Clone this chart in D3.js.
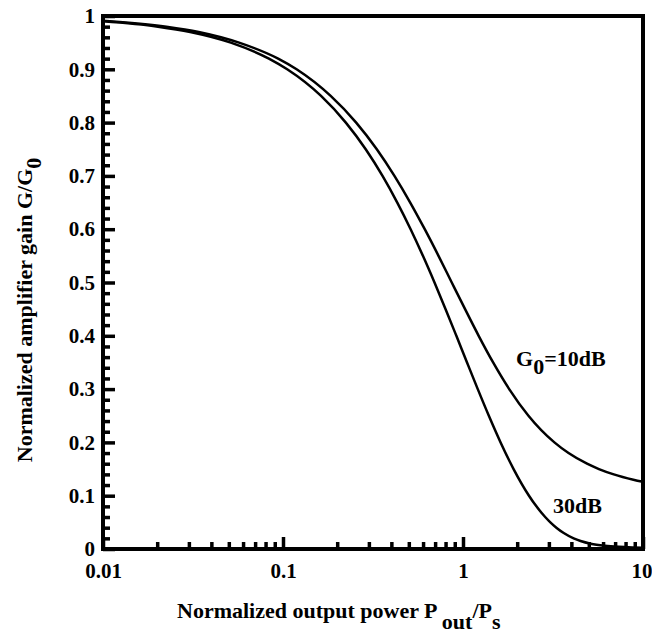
<!DOCTYPE html>
<html>
<head>
<meta charset="utf-8">
<script src="https://cdn.jsdelivr.net/npm/d3@7"></script>
<style>
  body { margin: 0; background: #fff; }
  text { font-family: "Liberation Serif", "Times New Roman", serif; font-weight: bold; fill: #000; }
</style>
</head>
<body>
<script>
const width = 652, height = 637;
const margin = { top: 16, right: 9, bottom: 88, left: 103 };

// G0 = 10 dB curve (Pout/Ps, G/G0)
const power10 = [0.01, 0.0225, 0.034, 0.057, 0.094, 0.119, 0.184, 0.255, 0.332, 0.416, 0.509, 0.613, 0.731, 0.866, 1.027, 1.222, 1.47, 1.806, 2.31, 3.219, 3.858, 4.887, 5.691, 6.881, 8.841, 10];
const gain10  = [0.991, 0.98, 0.97, 0.95, 0.92, 0.90, 0.85, 0.80, 0.75, 0.70, 0.65, 0.60, 0.55, 0.50, 0.45, 0.40, 0.35, 0.30, 0.25, 0.20, 0.18, 0.16, 0.15, 0.14, 0.13, 0.126];

// G0 = 30 dB curve
const power30 = [0.01, 0.0202, 0.0305, 0.0513, 0.0835, 0.1055, 0.1627, 0.2234, 0.2881, 0.3572, 0.4314, 0.5117, 0.5989, 0.6945, 0.8003, 0.9186, 1.0528, 1.208, 1.3918, 1.6175, 1.9099, 2.3259, 2.5577, 2.8611, 3.0569, 3.3014, 3.6275, 4.1179, 4.4997, 5.1169, 5.5181, 6.1392, 6.6229, 7.3619, 8.7137, 10];
const gain30  = [0.99, 0.98, 0.97, 0.95, 0.92, 0.90, 0.85, 0.80, 0.75, 0.70, 0.65, 0.60, 0.55, 0.50, 0.45, 0.40, 0.35, 0.30, 0.25, 0.20, 0.15, 0.10, 0.08, 0.06, 0.05, 0.04, 0.03, 0.02, 0.015, 0.01, 0.008, 0.006, 0.005, 0.004, 0.003, 0.0025];

// tick labels
const xMajor = [0.01, 0.1, 1, 10];
const xMinor = [0.02, 0.03, 0.04, 0.05, 0.06, 0.07, 0.08, 0.09,
                0.2, 0.3, 0.4, 0.5, 0.6, 0.7, 0.8, 0.9,
                2, 3, 4, 5, 6, 7, 8, 9];
const yMajor = [0, 0.1, 0.2, 0.3, 0.4, 0.5, 0.6, 0.7, 0.8, 0.9, 1];
const yMinor = d3.range(0.02, 1, 0.02).filter(v => Math.abs(v * 10 - Math.round(v * 10)) > 1e-6);

const svg = d3.select("body")
    .append("svg")
    .attr("width", width)
    .attr("height", height);

const x = d3.scaleLog()
    .domain([0.01, 10])
    .range([margin.left, width - margin.right]);

const y = d3.scaleLinear()
    .domain([0, 1])
    .range([height - margin.bottom, margin.top]);

// curves
const line = d3.line()
    .x(d => x(d[0]))
    .y(d => y(d[1]))
    .curve(d3.curveMonotoneX);

const series = [
    d3.zip(power10, gain10),
    d3.zip(power30, gain30)
];

svg.selectAll(".curve")
    .data(series)
    .enter()
    .append("path")
    .attr("class", "curve")
    .attr("d", line)
    .attr("fill", "none")
    .attr("stroke", "#000")
    .attr("stroke-width", 2.5);

// bottom axis, ticks point inward
const xAxis = svg.append("g")
    .attr("transform", `translate(0,${y(0)})`)
    .call(d3.axisBottom(x).tickValues(xMajor).tickSize(-12).tickPadding(14).tickFormat(d3.format("")));
svg.append("g")
    .attr("transform", `translate(0,${y(0)})`)
    .call(d3.axisBottom(x).tickValues(xMinor).tickSize(-7).tickFormat(""));

// last label sits at the window edge, keep it inside
xAxis.selectAll(".tick text")
    .filter(d => d === 10)
    .attr("text-anchor", "end")
    .attr("dx", width - x(10));

// left axis
svg.append("g")
    .attr("transform", `translate(${x(0.01)},0)`)
    .call(d3.axisLeft(y).tickValues(yMajor).tickSize(-12).tickPadding(8).tickFormat(d3.format("")));
svg.append("g")
    .attr("transform", `translate(${x(0.01)},0)`)
    .call(d3.axisLeft(y).tickValues(yMinor).tickSize(-7).tickFormat(""));

svg.selectAll(".domain").remove();
svg.selectAll(".tick line").attr("stroke", "#000").attr("stroke-width", 3.5);
svg.selectAll(".tick text")
    .style("font-family", "'Liberation Serif', serif")
    .style("font-weight", "bold")
    .style("font-size", "21px")
    .attr("fill", "#000");

// frame
svg.append("rect")
    .attr("x", x(0.01))
    .attr("y", y(1))
    .attr("width", x(10) - x(0.01))
    .attr("height", y(0) - y(1))
    .attr("fill", "none")
    .attr("stroke", "#000")
    .attr("stroke-width", 4);

// curve labels
const lab10 = svg.append("text")
    .attr("x", 516)
    .attr("y", 366)
    .style("font-size", "22px");
lab10.append("tspan").text("G");
lab10.append("tspan").attr("dy", 8).text("0");
lab10.append("tspan").attr("dy", -8).text("=10dB");

svg.append("text")
    .attr("x", 553)
    .attr("y", 513)
    .style("font-size", "22px")
    .text("30dB");

// axis titles
const xTitle = svg.append("text")
    .attr("x", 177)
    .attr("y", 618)
    .style("font-size", "22px");
xTitle.append("tspan").text("Normalized output power P ");
xTitle.append("tspan").attr("dy", 11).text("out");
xTitle.append("tspan").attr("dy", -11).text("/P");
xTitle.append("tspan").attr("dy", 11).text("s");

const yTitle = svg.append("text")
    .attr("transform", "translate(32,310) rotate(-90)")
    .attr("text-anchor", "middle")
    .style("font-size", "22px");
yTitle.append("tspan").text("Normalized amplifier gain G/G");
yTitle.append("tspan").attr("dy", 9).text("0");
</script>
</body>
</html>
